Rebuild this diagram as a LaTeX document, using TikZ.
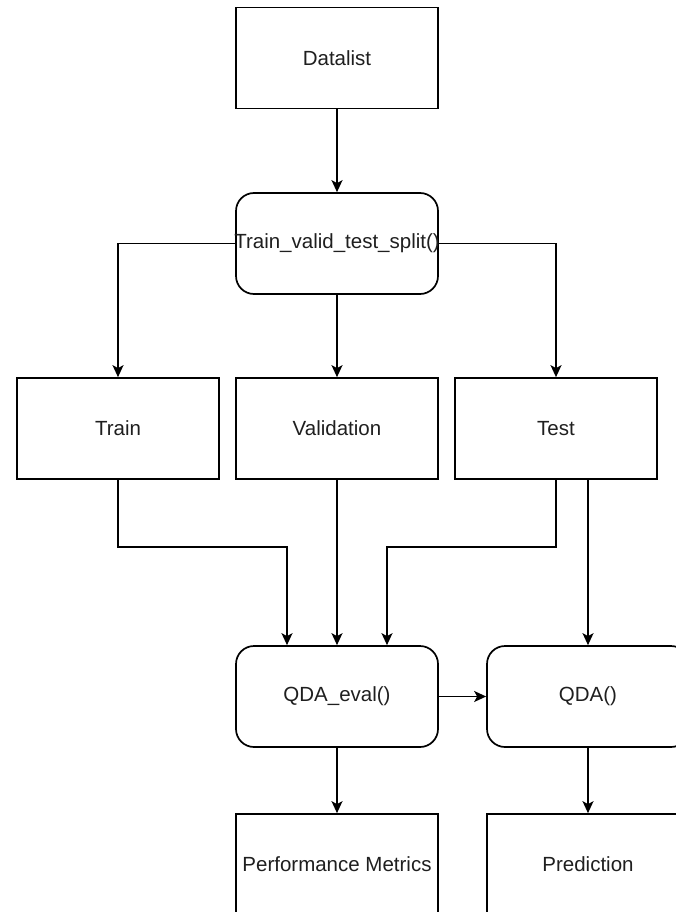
\documentclass[tikz,border=0pt]{standalone}
\usepackage{fontspec}
\setmainfont{Liberation Sans}
\usetikzlibrary{arrows.meta}
\begin{document}
\begin{tikzpicture}[x=1pt,y=-1pt,
  box/.style={draw=black, line width=1.7pt, minimum width=202pt, minimum height=101pt,
    inner sep=0pt, font=\fontsize{20.5}{23}\selectfont, text=black!88},
  roundbox/.style={box, rounded corners=18pt},
  link/.style={draw=black, line width=1.7pt, -{Stealth[length=12pt,width=11pt,inset=3pt]}}]
  \useasboundingbox (0,0) rectangle (676,912);
  \clip (0,0) rectangle (676,912);
  \fill[white] (0,0) rectangle (676,912);

  % stages (the split label is allowed to run over its box edges)
  \node[box] (data) at (337,58) {Datalist};
  \node[roundbox] (split) at (337,243.5) {\makebox[0pt][c]{Train\_valid\_test\_split()}};
  \node[box] (train) at (118,428.5) {Train};
  \node[box] (valid) at (337,428.5) {Validation};
  \node[box] (test) at (556,428.5) {Test};
  \node[roundbox] (eval) at (337,696.5) {QDA\_eval()};
  \node[roundbox] (qda) at (588,696.5) {QDA()};
  \node[box] (perf) at (337,864.5) {Performance Metrics};
  \node[box] (pred) at (588,864.5) {Prediction};

  % connectors
  \draw[link] (data) -- (split);
  \draw[link] (split.west) -| (train.north);
  \draw[link] (split) -- (valid);
  \draw[link] (split.east) -| (test.north);
  \draw[link] (train.south) -- ++(0,67) -| ([xshift=-50pt]eval.north);
  \draw[link] (valid) -- (eval);
  \draw[link] (test.south) -- ++(0,67) -| ([xshift=50pt]eval.north);
  \draw[link] ([xshift=32pt]test.south) -- (qda.north);
  \draw[link] (eval) -- (qda);
  \draw[link] (eval) -- (perf);
  \draw[link] (qda) -- (pred);
\end{tikzpicture}
\end{document}
